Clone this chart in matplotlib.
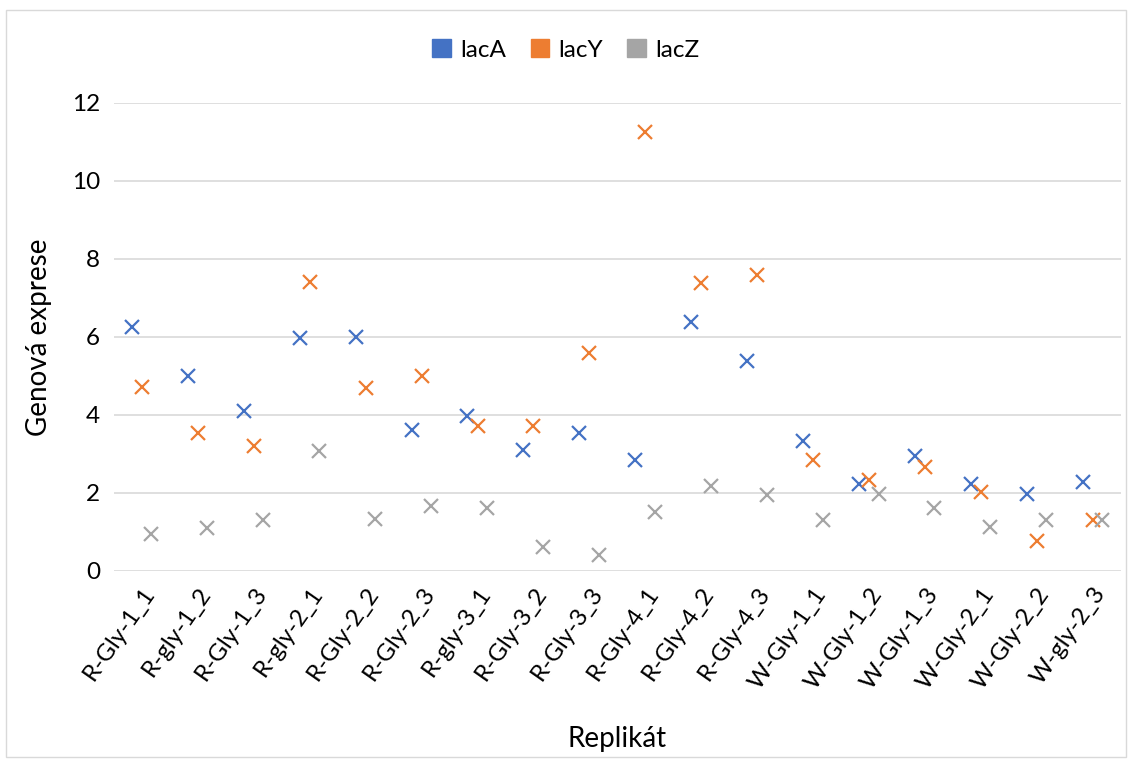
import numpy as np
import matplotlib.pyplot as plt
from matplotlib.patches import Rectangle

plt.rcParams['font.family'] = ['Lato', 'DejaVu Sans']

replikaty = ['R-Gly-1_1', 'R-gly-1_2', 'R-Gly-1_3', 'R-gly-2_1', 'R-Gly-2_2', 'R-Gly-2_3',
             'R-gly-3_1', 'R-Gly-3_2', 'R-Gly-3_3', 'R-Gly-4_1', 'R-Gly-4_2', 'R-Gly-4_3',
             'W-Gly-1_1', 'W-Gly-1_2', 'W-Gly-1_3', 'W-Gly-2_1', 'W-Gly-2_2', 'W-gly-2_3']
lacA = [6.26, 5.00, 4.10, 5.97, 6.01, 3.62, 3.98, 3.09, 3.54, 2.85, 6.38, 5.38,
        3.34, 2.23, 2.95, 2.23, 1.97, 2.27]
lacY = [4.73, 3.53, 3.20, 7.41, 4.68, 5.01, 3.73, 3.72, 5.59, 11.25, 7.39, 7.59,
        2.85, 2.33, 2.67, 2.02, 0.78, 1.31]
lacZ = [0.94, 1.09, 1.31, 3.07, 1.33, 1.67, 1.62, 0.62, 0.41, 1.50, 2.19, 1.95,
        1.31, 1.97, 1.62, 1.12, 1.31, 1.31]

serie = [('lacA', lacA, '#4472C4', -0.18), ('lacY', lacY, '#ED7D31', 0.0),
         ('lacZ', lacZ, '#A5A5A5', 0.17)]

fig = plt.figure(figsize=(11.32, 7.6), dpi=100)
ax = fig.add_axes([0.1007, 0.2487, 0.8893, 0.6158])

x = np.arange(len(replikaty))
for name, vals, col, off in serie:
    ax.plot(x + off, vals, linestyle='none', marker='x', markersize=10,
            markeredgewidth=1.6, color=col, label=name)

ax.set_xlim(-0.5, len(replikaty) - 0.5)
ax.set_ylim(0, 12)
ax.set_yticks(range(0, 13, 2))
ax.grid(axis='y', color='#D9D9D9', linewidth=1.2)
ax.set_axisbelow(True)
for s in ax.spines.values():
    s.set_visible(False)
ax.tick_params(axis='both', length=0, labelsize=17.5, colors='black')
ax.tick_params(axis='y', pad=10)
ax.set_xticks(x)
ax.set_xticklabels(replikaty, rotation=55, ha='right', va='top',
                   rotation_mode='anchor')
ax.tick_params(axis='x', pad=9)

ax.set_ylabel('Genová exprese', fontsize=20, labelpad=14)
ax.set_xlabel('Replikát', fontsize=20, labelpad=24)

handles = [Rectangle((0, 0), 1, 1, facecolor=c, edgecolor=c) for _, _, c, _ in serie]
fig.legend(handles, [s[0] for s in serie], loc='center', bbox_to_anchor=(0.5, 0.934),
           ncol=3, frameon=False, fontsize=17.5, handlelength=0.75, handleheight=0.75,
           handletextpad=0.4, columnspacing=1.0)

fig.add_artist(Rectangle((0.005, 0.004), 0.99, 0.983, transform=fig.transFigure,
                         fill=False, edgecolor='#D9D9D9', linewidth=1))

fig.savefig('out.png', dpi=100)
